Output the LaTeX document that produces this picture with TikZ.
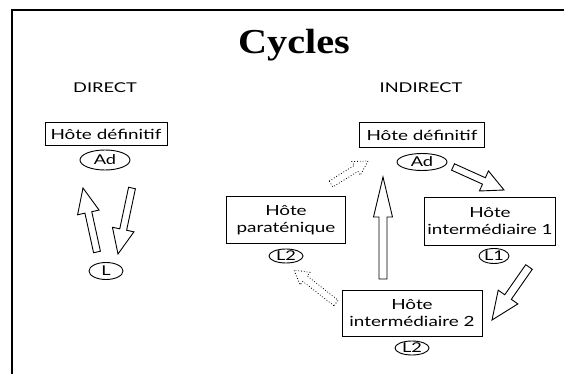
\documentclass[tikz,border=0pt]{standalone}
\usepackage{fontspec}
\setmainfont[FakeStretch=1.35]{Lato}
\newfontfamily\titlefont[FakeStretch=1.15]{Liberation Serif}
\usetikzlibrary{calc,shapes.geometric}

% Hollow block arrow: [style]{tail}{tip}{shaft half width}{head half width}{head length}
\newcommand\blockarrow[6][]{%
  \coordinate (ba-q) at ($(#3)!#6!(#2)$);
  \draw[#1] ($(#2)!#4!90:(#3)$) -- ($(ba-q)!#4!90:(#3)$) -- ($(ba-q)!#5!90:(#3)$)
    -- (#3) -- ($(ba-q)!#5!-90:(#3)$) -- ($(ba-q)!#4!-90:(#3)$)
    -- ($(#2)!#4!-90:(#3)$) -- cycle;}

\begin{document}
\begin{tikzpicture}[x=1pt,y=-1pt,
  hostbox/.style={draw, line width=0.9pt, inner sep=0pt, align=center,
    font=\fontsize{14}{17}\selectfont},
  stage/.style={ellipse, draw, line width=0.9pt, inner sep=0pt,
    font=\fontsize{13.5}{13.5}\selectfont},
  heading/.style={anchor=base, font=\fontsize{13.5}{14}\selectfont},
  solidarrow/.style={line width=0.9pt, fill=white, line join=miter},
  dotarrow/.style={line width=0.8pt, dotted, fill=white}]
\useasboundingbox (0,0) rectangle (564,374);
\draw[line width=1.8pt] (12,374) -- (12,10) -- (564,10);

% titles
\node[anchor=base, font=\titlefont\bfseries\fontsize{35}{35}\selectfont] (title) at (294,54) {Cycles};
\node[heading] (hdirect) at (105,93) {DIRECT};
\node[heading] (hindirect) at (421,93) {INDIRECT};

% direct cycle
\node[hostbox, minimum width=122, minimum height=23] (dhd) at (106,134) {Hôte définitif};
\node[stage, minimum width=50, minimum height=20] (dad) at (105,160) {Ad};
\node[stage, minimum width=34, minimum height=17] (dl) at (106,271) {L};

% indirect cycle
\node[hostbox, minimum width=125, minimum height=25] (ihd) at (422,135) {Hôte définitif};
\node[stage, minimum width=50, minimum height=17] (iad) at (422,162) {Ad};
\node[hostbox, minimum width=119, minimum height=47] (para) at (286,220) {Hôte\\paraténique};
\node[stage, minimum width=34, minimum height=14] (pl2) at (286,256) {L2};
\node[hostbox, minimum width=131, minimum height=48] (int1) at (490,221) {Hôte\\intermédiaire 1};
\node[stage, minimum width=30, minimum height=15] (l1) at (494,256) {L1};
\node[hostbox, minimum width=140, minimum height=46] (int2) at (412,313) {Hôte\\intermédiaire 2};
\node[stage, minimum width=34, minimum height=14] (l2) at (412,348) {L2};

% arrow ends
\coordinate (dupT) at (97,252);  \coordinate (dupH) at (83,188);
\coordinate (ddnT) at (132,188); \coordinate (ddnH) at (118,254);
\coordinate (upT) at (383,279);  \coordinate (upH) at (383,177);
\coordinate (a1T) at (453,167);  \coordinate (a1H) at (504,190);
\coordinate (a2T) at (529,267);  \coordinate (a2H) at (492,320);
\coordinate (p1T) at (331,184);  \coordinate (p1H) at (368,161);
\coordinate (p2T) at (336,303);  \coordinate (p2H) at (294,270);

\blockarrow[solidarrow]{dupT}{dupH}{3.5pt}{11pt}{25pt}
\blockarrow[solidarrow]{ddnT}{ddnH}{3.5pt}{11pt}{25pt}
\blockarrow[solidarrow]{upT}{upH}{4pt}{9.5pt}{40pt}
\blockarrow[solidarrow]{a1T}{a1H}{3.5pt}{11pt}{22pt}
\blockarrow[solidarrow]{a2T}{a2H}{4pt}{12pt}{28pt}
\blockarrow[dotarrow]{p1T}{p1H}{3.5pt}{8pt}{14pt}
\blockarrow[dotarrow]{p2T}{p2H}{3.5pt}{8pt}{14pt}
\end{tikzpicture}
\end{document}
